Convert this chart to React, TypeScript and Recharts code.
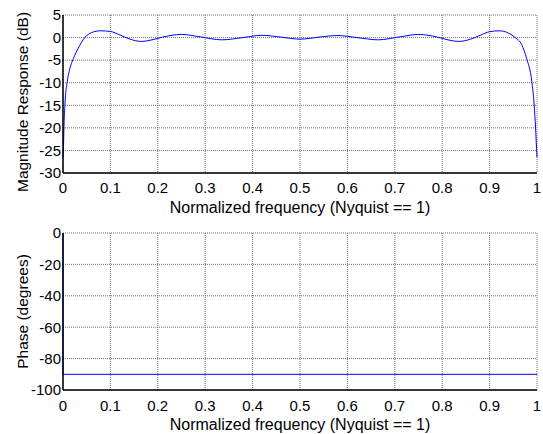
import React from "react";
import { LineChart, Line, XAxis, YAxis, CartesianGrid } from "recharts";

const freqTicks = [0, 0.1, 0.2, 0.3, 0.4, 0.5, 0.6, 0.7, 0.8, 0.9, 1];
const magTicks = [5, 0, -5, -10, -15, -20, -25, -30];
const phaseTicks = [0, -20, -40, -60, -80, -100];

const magFreq = [
  0, 0.001, 0.002, 0.004, 0.009, 0.013, 0.022, 0.032, 0.046, 0.06, 0.08, 0.1, 0.12, 0.14,
  0.165, 0.19, 0.21, 0.25, 0.29, 0.335, 0.38, 0.42, 0.46, 0.5, 0.54, 0.58, 0.62, 0.665,
  0.71, 0.75, 0.79, 0.81, 0.835, 0.86, 0.88, 0.9, 0.92, 0.94, 0.954, 0.968, 0.978, 0.989,
  0.994, 0.997, 0.999, 1,
];
const magDb = [
  -26.5, -24.5, -20, -15, -9.7, -7.5, -4.6, -2.4, 0, 1.1, 1.5, 1.35, 0.6, -0.3,
  -0.85, -0.45, 0.1, 0.7, 0.15, -0.5, 0, 0.5, 0.1, -0.35, 0.1, 0.45, 0, -0.5,
  0.15, 0.7, 0.1, -0.45, -0.85, -0.35, 0.5, 1.3, 1.5, 1.0, 0, -1.6, -4.6, -9.7,
  -14.9, -20, -24.5, -26.5,
];

const phaseFreq = [0, 0, 1];
const phaseDeg = [0, -90, -90];

const magData = magFreq.map((f, i) => ({ f, v: magDb[i] }));
const phaseData = phaseFreq.map((f, i) => ({ f, v: phaseDeg[i] }));

const FONT = "'Liberation Sans', Arial, sans-serif";
const tickStyle = { fill: "#000", fontSize: 15, fontFamily: FONT };

const fmtX = (v: number) => (v === 0 ? "0" : v === 1 ? "1" : v.toFixed(1));

function XLabel(props: any) {
  const vb = props.viewBox || {};
  return (
    <text
      x={vb.x + vb.width / 2}
      y={vb.y + 34}
      textAnchor="middle"
      dominantBaseline="central"
      fontSize={16}
      fontFamily={FONT}
      fill="#000"
    >
      Normalized frequency (Nyquist == 1)
    </text>
  );
}

function makeYLabel(text: string, dy: number) {
  return (props: any) => {
    const vb = props.viewBox || {};
    const cx = 22;
    const cy = vb.y + vb.height / 2 + dy;
    return (
      <text
        x={cx}
        y={cy}
        transform={`rotate(-90 ${cx} ${cy})`}
        textAnchor="middle"
        dominantBaseline="central"
        fontSize={15.5}
        fontFamily={FONT}
        fill="#000"
      >
        {text}
      </text>
    );
  };
}

function Panel(props: {
  data: { f: number; v: number }[];
  height: number;
  top: number;
  bottom: number;
  yDomain: [number, number];
  yTicks: number[];
  yLabel: string;
  yLabelDy: number;
  xTickMargin: number;
  curve: "monotone" | "linear";
}) {
  return (
    <LineChart
      width={543}
      height={props.height}
      data={props.data}
      margin={{ top: props.top, right: 6, bottom: props.bottom, left: 8 }}
    >
      <CartesianGrid stroke="#6e6e6e" strokeDasharray="1 1" />
      <XAxis
        type="number"
        dataKey="f"
        domain={[0, 1]}
        ticks={freqTicks}
        tickFormatter={fmtX}
        interval={0}
        tick={tickStyle}
        tickLine={false}
        tickSize={0}
        tickMargin={props.xTickMargin}
        axisLine={{ stroke: "#000", strokeWidth: 1.5 }}
        height={40}
        label={<XLabel />}
      />
      <XAxis
        xAxisId="top"
        orientation="top"
        type="number"
        dataKey="f"
        domain={[0, 1]}
        tick={false}
        tickLine={false}
        axisLine={{ stroke: "#000", strokeWidth: 1.5 }}
        height={0}
      />
      <YAxis
        type="number"
        domain={props.yDomain}
        ticks={props.yTicks}
        interval={0}
        tick={tickStyle}
        tickLine={false}
        tickSize={0}
        tickMargin={2}
        axisLine={{ stroke: "#000", strokeWidth: 1.5 }}
        width={55}
        allowDataOverflow
        label={makeYLabel(props.yLabel, props.yLabelDy)}
      />
      <YAxis
        yAxisId="right"
        orientation="right"
        type="number"
        domain={props.yDomain}
        tick={false}
        tickLine={false}
        axisLine={{ stroke: "#000", strokeWidth: 1.5 }}
        width={0}
      />
      <Line
        dataKey="v"
        type={props.curve}
        stroke="#0000ff"
        strokeWidth={1}
        dot={false}
        isAnimationActive={false}
      />
    </LineChart>
  );
}

export default function App() {
  return (
    <div
      style={{
        position: "fixed",
        left: 0,
        top: 0,
        width: 543,
        height: 434,
        background: "#fff",
        overflow: "hidden",
      }}
    >
      <Panel
        data={magData}
        height={220}
        top={15}
        bottom={7}
        yDomain={[-30, 5]}
        yTicks={magTicks}
        yLabel="Magnitude Response (dB)"
        yLabelDy={8}
        xTickMargin={9}
        curve="monotone"
      />
      <Panel
        data={phaseData}
        height={214}
        top={13}
        bottom={4}
        yDomain={[-100, 0]}
        yTicks={phaseTicks}
        yLabel="Phase (degrees)"
        yLabelDy={0}
        xTickMargin={10}
        curve="linear"
      />
    </div>
  );
}
